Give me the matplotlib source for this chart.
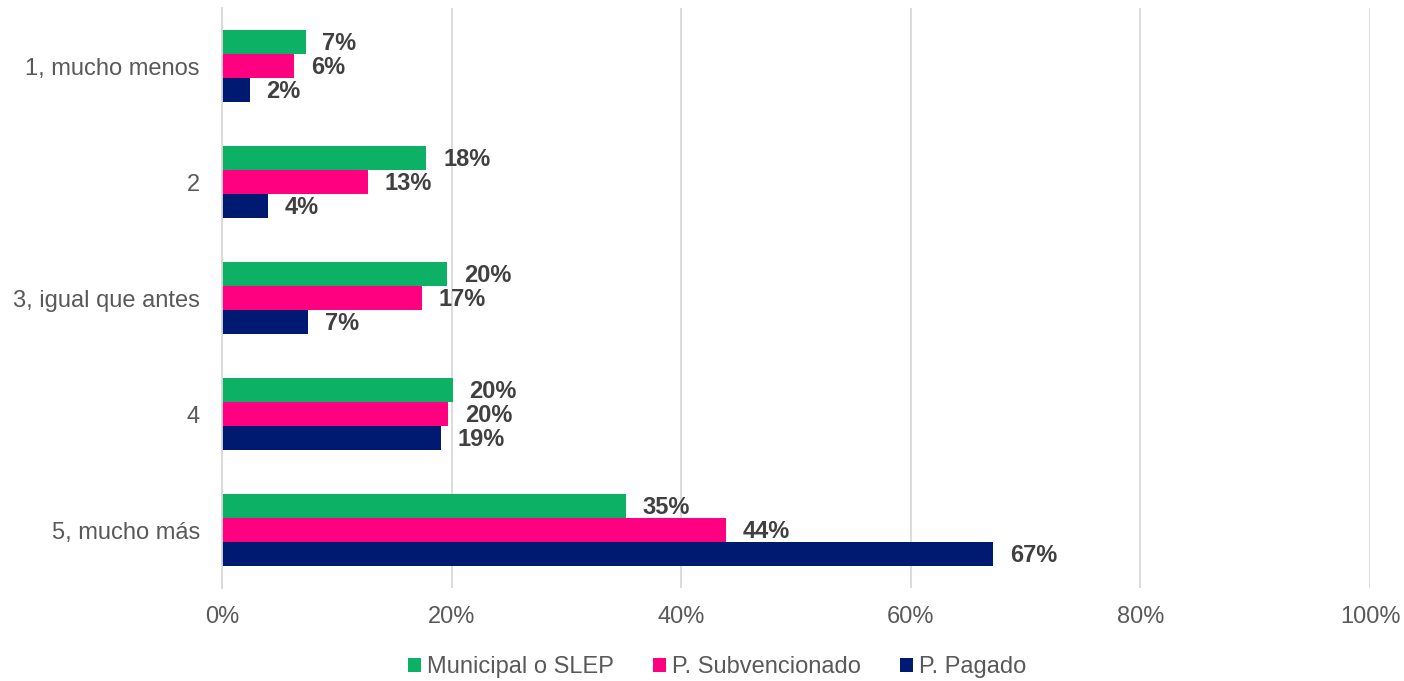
import numpy as np
import matplotlib.pyplot as plt
from matplotlib.ticker import FuncFormatter

plt.rcParams['font.family'] = ['Liberation Sans', 'DejaVu Sans']

categories = ['1, mucho menos', '2', '3, igual que antes', '4', '5, mucho más']
municipal = [7.3, 17.8, 19.6, 20.1, 35.2]
subvencionado = [6.3, 12.7, 17.4, 19.7, 43.9]
pagado = [2.4, 4.0, 7.5, 19.1, 67.2]
labels_mun = ['7%', '18%', '20%', '20%', '35%']
labels_sub = ['6%', '13%', '17%', '20%', '44%']
labels_pag = ['2%', '4%', '7%', '19%', '67%']

series = [
    ('Municipal o SLEP', municipal, labels_mun, '#0DB166'),
    ('P. Subvencionado', subvencionado, labels_sub, '#FF0080'),
    ('P. Pagado', pagado, labels_pag, '#001A72'),
]

fig = plt.figure(figsize=(14.04, 6.81), dpi=100)
ax = fig.add_axes([222 / 1404, 1 - 588 / 681, 1148 / 1404, 580 / 681])

y = np.arange(len(categories))
h = 0.207
for i, (name, vals, labs, color) in enumerate(series):
    pos = y + (i - 1) * h
    ax.barh(pos, vals, height=h, color=color, label=name, zorder=3)
    for p, v, t in zip(pos, vals, labs):
        ax.annotate(t, (v, p), xytext=(12, -1), textcoords='offset points',
                    ha='left', va='center', fontsize=17, fontweight='bold',
                    color='#404040', zorder=4)

ax.set_xlim(0, 100)
ax.set_ylim(len(categories) - 0.5, -0.5)
ax.set_yticks(y)
ax.set_yticklabels(categories)
ax.set_xticks(np.arange(0, 101, 20))
ax.xaxis.set_major_formatter(FuncFormatter(lambda v, _: f'{v:.0f}%'))
ax.tick_params(axis='both', length=0, labelsize=17, labelcolor='#595959')
ax.tick_params(axis='y', pad=16)
ax.tick_params(axis='x', pad=13)
ax.grid(axis='x', color='#D9D9D9', linewidth=1.3, zorder=0)
for s in ['top', 'right', 'bottom']:
    ax.spines[s].set_visible(False)
ax.spines['left'].set_color('#D9D9D9')
ax.spines['left'].set_linewidth(1.3)
ax.spines['left'].set_zorder(5)

leg = fig.legend(loc='center', bbox_to_anchor=(717 / 1404, 1 - 667 / 681), ncol=3,
                 frameon=False, fontsize=17, handlelength=0.55, handleheight=0.55,
                 handletextpad=0.25, columnspacing=1.65)
for t in leg.get_texts():
    t.set_color('#595959')

fig.savefig('out.png', dpi=100)
